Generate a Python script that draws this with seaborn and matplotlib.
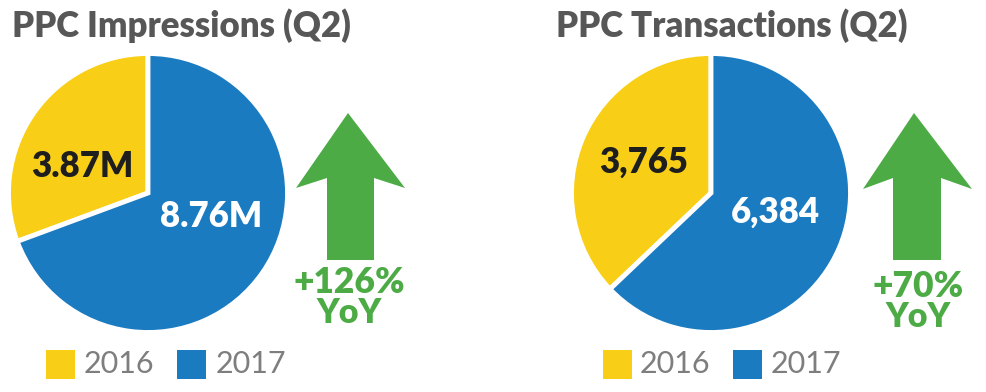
import matplotlib
matplotlib.use("Agg")
import matplotlib.pyplot as plt
from matplotlib.patches import Polygon, Rectangle
import seaborn as sns

# ---- data ----
categories = ["2016", "2017"]
impressions = [3.87, 8.76]
transactions = [3765, 6384]
impression_labels = ["3.87M", "8.76M"]
transaction_labels = ["3,765", "6,384"]
titles = ["PPC Impressions (Q2)", "PPC Transactions (Q2)"]
growth = ["+126%", "+70%"]

sns.set_theme(style="white")
plt.rcParams["font.family"] = ["Lato", "DejaVu Sans"]

colors = sns.color_palette(["#F8CF16", "#1B7BC1"])
GREEN = "#4DAB46"
TITLE = "#575757"
LEG = "#7E7E7E"

W, H = 987, 392
fig = plt.figure(figsize=(W / 100, H / 100), dpi=100)
fig.patch.set_facecolor("white")


def fx(x):
    return x / W


def fy(y):
    return (H - y) / H


def pie_axes(cx, cy, r):
    ax = fig.add_axes([fx(cx - r), fy(cy + r), 2 * r / W, 2 * r / H])
    ax.axis("off")
    return ax


panels = [
    dict(vals=impressions, labels=impression_labels, cx=148, cy=193,
         lab_pos=[(82, 177), (211, 227)], title_x=12,
         arrow=dict(tip=(348, 113), hl=296, hr=405, hb=188, sl=327, sr=374, st=178, sb=260),
         gx=349, gy=[293, 323],
         leg=[(46, 84), (177, 216)]),
    dict(vals=transactions, labels=transaction_labels, cx=711, cy=193,
         lab_pos=[(644, 173), (775, 223)], title_x=556,
         arrow=dict(tip=(914, 113), hl=863, hr=972, hb=189, sl=893, sr=941, st=178, sb=260),
         gx=918, gy=[297, 327],
         leg=[(603, 640), (733, 771)]),
]

for i, p in enumerate(panels):
    ax = pie_axes(p["cx"], p["cy"], 139.5)
    wedges, _ = ax.pie(p["vals"], colors=colors, startangle=90, counterclock=True,
                       radius=1, wedgeprops=dict(edgecolor="white", linewidth=3.5))
    for w in wedges:
        w.set_clip_on(False)
    ax.set_aspect("equal")
    ax.set_xlim(-1, 1)
    ax.set_ylim(-1, 1)

    for j, (lx, ly) in enumerate(p["lab_pos"]):
        fig.text(fx(lx), fy(ly), p["labels"][j], ha="center", va="baseline",
                 fontsize=25, fontweight="heavy",
                 color="#1E1E1E" if j == 0 else "white")

    fig.text(fx(p["title_x"]), fy(37), titles[i], ha="left", va="baseline",
             fontsize=25, fontweight="heavy", color=TITLE)

    a = p["arrow"]
    pts = [a["tip"], (a["hr"], a["hb"]), (a["sr"], a["st"]), (a["sr"], a["sb"]),
           (a["sl"], a["sb"]), (a["sl"], a["st"]), (a["hl"], a["hb"])]
    fig.patches.append(Polygon([(fx(x), fy(y)) for x, y in pts], closed=True,
                               transform=fig.transFigure, facecolor=GREEN,
                               edgecolor="none"))
    fig.text(fx(p["gx"]), fy(p["gy"][0]), growth[i], ha="center", va="baseline",
             fontsize=25.5, fontweight="heavy", color=GREEN)
    fig.text(fx(p["gx"]), fy(p["gy"][1]), "YoY", ha="center", va="baseline",
             fontsize=24.5, fontweight="heavy", color=GREEN)

    for j, (sx, tx) in enumerate(p["leg"]):
        fig.patches.append(Rectangle((fx(sx), fy(379)), 29 / W, 29 / H,
                                     transform=fig.transFigure,
                                     facecolor=colors[j], edgecolor="none"))
        fig.text(fx(tx), fy(373), categories[j], ha="left", va="baseline",
                 fontsize=22, fontweight="normal", color=LEG)

fig.savefig("out.png", dpi=100, facecolor="white")
